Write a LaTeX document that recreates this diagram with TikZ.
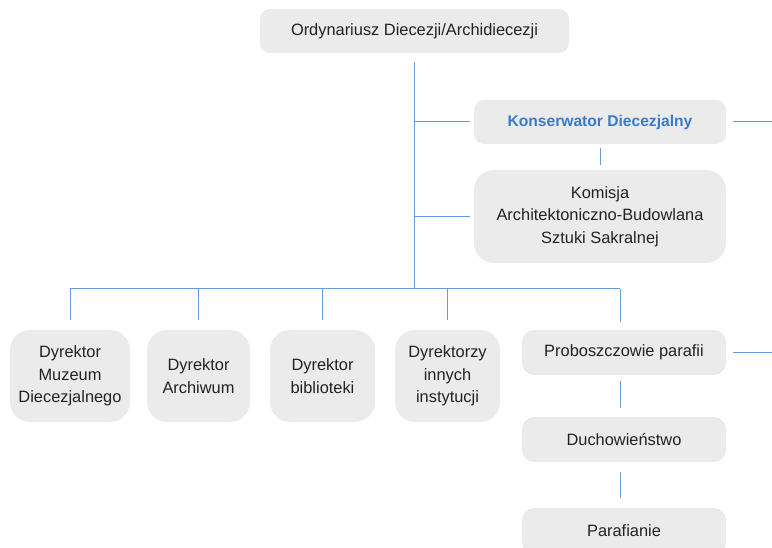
\documentclass[tikz,border=0pt]{standalone}
\usepackage{fontspec}
\setmainfont{Liberation Sans}
\definecolor{boxfill}{HTML}{EBEBEB}
\definecolor{linecol}{HTML}{6A9BD6}
\definecolor{bluetext}{HTML}{3A7BC8}
\definecolor{txt}{HTML}{222222}
\begin{document}
\begin{tikzpicture}[x=1pt,y=-1pt,
  box/.style={draw=none,fill=boxfill,rounded corners=#1,align=center,text=txt,
    font=\fontsize{16.4}{22.5}\selectfont,inner sep=0pt},
  box/.default=10pt,
  conn/.style={draw=linecol,line width=1pt}]
\useasboundingbox (0,0) rectangle (772,548);
\clip (0,0) rectangle (772,548);
\node[box, minimum width=309pt, minimum height=44pt] (top) at (414.5,31) {Ordynariusz Diecezji/Archidiecezji};
\node[box, minimum width=252pt, minimum height=44pt, text=bluetext, font=\fontsize{15.6}{22}\selectfont\bfseries] (kons) at (600,122) {Konserwator Diecezjalny};
\node[box=20pt, minimum width=252pt, minimum height=93pt] (kom) at (600,216.5) {Komisja\\Architektoniczno-Budowlana\\Sztuki Sakralnej};
\node[box=20pt, minimum width=120pt, minimum height=92pt] (b1) at (70,376) {Dyrektor\\Muzeum\\Diecezjalnego};
\node[box=20pt, minimum width=103pt, minimum height=92pt] (b2) at (198.5,376) {Dyrektor\\Archiwum};
\node[box=20pt, minimum width=105pt, minimum height=92pt] (b3) at (322.5,376) {Dyrektor\\biblioteki};
\node[box=20pt, minimum width=105pt, minimum height=92pt] (b4) at (447.5,376) {Dyrektorzy\\innych\\instytucji};
\node[box=12pt, minimum width=204pt, minimum height=45pt] (prob) at (624,352.5) {Proboszczowie parafii};
\node[box=12pt, minimum width=204pt, minimum height=45pt] (duch) at (624,439.5) {Duchowieństwo};
\node[box=12pt, minimum width=204pt, minimum height=46pt] (paraf) at (624,531) {Parafianie};
\coordinate (hub) at (414,289);
\coordinate (pj) at (620,289);
\coordinate (konsR) at (772,122);
\coordinate (probR) at (772,352.5);
\draw[conn, shorten <=9pt] (top.south -| hub) -- (hub);
\draw[conn, shorten >=4pt] (kons.west -| hub) -- (kons.west);
\draw[conn, shorten >=4pt] (kom.west -| hub) -- (kom.west);
\draw[conn, shorten <=4pt, shorten >=5pt] (kons.south) -- (kom.north);
\draw[conn, shorten <=7pt] (kons.east) -- (konsR);
\draw[conn] (b1.north |- hub) -- (pj);
\foreach \b in {b1,b2,b3,b4}{
  \draw[conn, shorten >=10pt] (\b.north |- hub) -- (\b.north);
}
\draw[conn, shorten >=8pt] (pj) -- (pj |- prob.north);
\draw[conn, shorten <=6pt, shorten >=9pt] (prob.south -| pj) -- (duch.north -| pj);
\draw[conn, shorten <=10pt, shorten >=10pt] (duch.south -| pj) -- (paraf.north -| pj);
\draw[conn, shorten <=7pt] (prob.east) -- (probR);
\end{tikzpicture}
\end{document}
